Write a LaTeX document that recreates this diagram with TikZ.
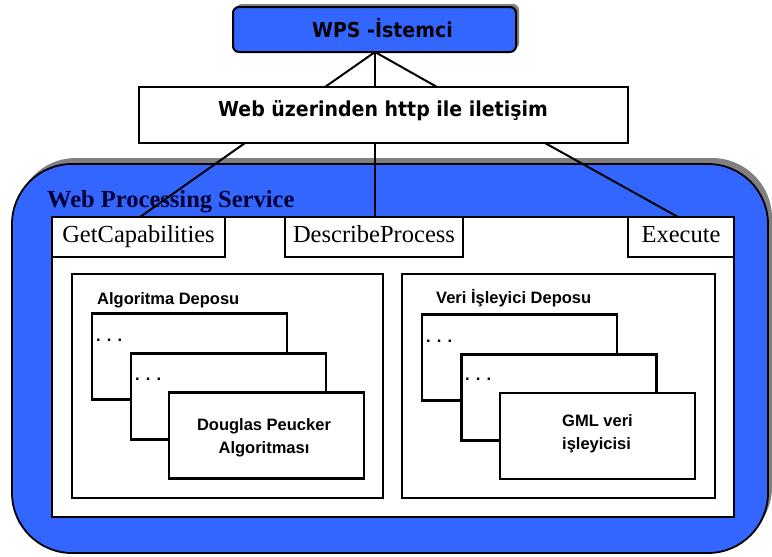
\documentclass[tikz,border=0pt]{standalone}
\usepackage{fontspec}
\setmainfont{Liberation Serif}
\newfontfamily\labelfont{Liberation Sans}
\newfontfamily\headfont{DejaVu Sans}[FakeStretch=0.92]
\usetikzlibrary{shadows}
\definecolor{wpsblue}{HTML}{3366FF}
\definecolor{navytext}{HTML}{000033}
\definecolor{shadegray}{HTML}{808080}

\begin{document}
\begin{tikzpicture}[x=1pt,y=-1pt,
  frame/.style={draw=black, fill=white, rectangle, inner sep=0pt, outer sep=0pt},
  wpsbox/.style={frame, fill=wpsblue, line width=2pt, rounded corners=6pt,
    drop shadow={shadow xshift=3pt, shadow yshift=3pt, fill=shadegray, opacity=1}},
  bigbox/.style={frame, fill=wpsblue, line width=1.8pt, rounded corners=60pt,
    drop shadow={shadow xshift=4pt, shadow yshift=6pt, fill=shadegray, opacity=1}},
  webbox/.style={frame, line width=1.5pt},
  panel/.style={frame, line width=2.2pt},
  tab/.style={frame, line width=2.2pt, font=\fontsize{24.5}{29}\selectfont,
    text height=17pt, text depth=5.5pt},
  store/.style={frame, line width=2.4pt},
  card/.style={frame, line width=2.6pt, minimum width=195pt, minimum height=86pt},
  headtext/.style={font=\headfont\bfseries\fontsize{20.6}{24}\selectfont, inner sep=0pt},
  smalltext/.style={font=\labelfont\bfseries\fontsize{16.5}{22.6}\selectfont, inner sep=0pt},
  link/.style={line width=2pt, black},
]
\useasboundingbox (0,0) rectangle (772,557);

% outer service container
\node[bigbox, minimum width=756pt, minimum height=389pt] (service) at (390,358.5) {};
\node[anchor=base west, inner sep=0pt, text=navytext,
  font=\bfseries\fontsize{24.5}{29}\selectfont] (servicetitle) at (47,207.3) {Web Processing Service};

% white inner panel with the three operation tabs
\node[panel, minimum width=682pt, minimum height=300pt] (panel) at (393,367) {};
\node[tab, minimum width=173pt, minimum height=40pt] (getcap) at (138.5,237) {GetCapabilities};
\node[tab, minimum width=178pt, minimum height=40pt] (describe) at (374,237) {DescribeProcess};
\node[tab, minimum width=106pt, minimum height=40pt] (execute) at (681,237) {Execute};

% algorithm store
\node[store, minimum width=311pt, minimum height=224pt] (algstore) at (227.5,386) {};
\node[smalltext, anchor=base west] (algtitle) at (97,304) {Algoritma Deposu};
\node[card] (alg1) at (189.5,356.5) {};
\node[smalltext, anchor=base west] (algdots1) at (96,341) {. . .};
\node[card] (alg2) at (228.5,396.5) {};
\node[smalltext, anchor=base west] (algdots2) at (135,380) {. . .};
\node[card] (alg3) at (266.5,435.5) {};
\node[smalltext, align=center] (dp) at (264,438) {Douglas Peucker\\Algoritması};

% data handler store
\node[store, minimum width=313pt, minimum height=224pt] (datastore) at (558.5,386) {};
\node[smalltext, anchor=base west] (datatitle) at (436,303.5) {Veri İşleyici Deposu};
\node[card] (data1) at (519.5,357.5) {};
\node[smalltext, anchor=base west] (datadots1) at (426,342) {. . .};
\node[card] (data2) at (559,397.5) {};
\node[smalltext, anchor=base west] (datadots2) at (465,380) {. . .};
\node[card] (data3) at (597.5,436) {};
\node[smalltext, align=left, anchor=west] (gml) at (562,434) {GML veri\\işleyicisi};

% client and transport layer
\node[wpsbox, minimum width=283pt, minimum height=45pt] (wps) at (374.5,29.5) {};
\node[headtext, anchor=base] (wpstext) at (382.5,37.3) {WPS -İstemci};
\node[webbox, minimum width=489pt, minimum height=56pt] (web) at (383.5,115) {};
\node[headtext, anchor=base] (webtext) at (383,116.7) {Web üzerinden http ile iletişim};

% attachment points of the connectors
\coordinate (wpsbot) at (375,52);
\coordinate (webtopL) at (325,87);
\coordinate (webtopM) at (375,87);
\coordinate (webtopR) at (437,87);
\coordinate (webbotL) at (245,143);
\coordinate (webbotM) at (375,143);
\coordinate (webbotR) at (545,143);
\coordinate (getcaptop) at (140,217);
\coordinate (describetop) at (375,217);
\coordinate (executetop) at (678,217);

\draw[link] (wpsbot) -- (webtopL);
\draw[link] (wpsbot) -- (webtopM);
\draw[link] (wpsbot) -- (webtopR);
\draw[link] (webbotL) -- (getcaptop);
\draw[link] (webbotM) -- (describetop);
\draw[link] (webbotR) -- (executetop);
\end{tikzpicture}
\end{document}
